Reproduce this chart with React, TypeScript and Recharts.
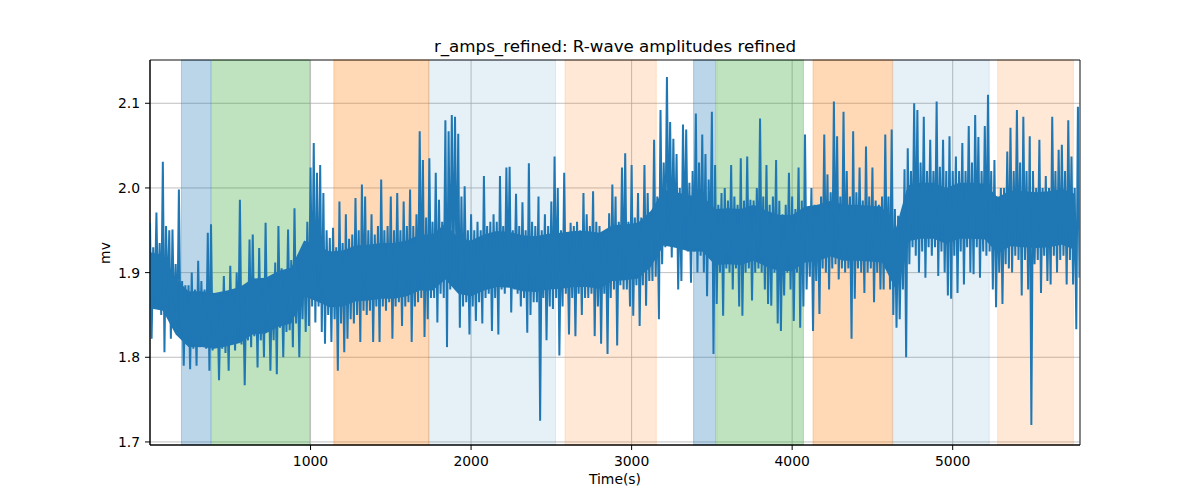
import { ComposedChart, Line, Area, XAxis, YAxis, CartesianGrid, ReferenceArea } from "recharts"

// R-wave amplitude (mV), one reading every 10 s (80 s per row)
const sampleStep = 10
const ampValues = [
  1.959, 1.822, 1.93, 1.865, 1.971, 1.858, 1.935, 1.85,
  2.031, 1.806, 1.955, 1.86, 1.95, 1.822, 1.951, 1.845,
  1.91, 1.83, 1.998, 1.83, 1.89, 1.79, 1.885, 1.815,
  1.885, 1.786, 1.9, 1.81, 1.88, 1.79, 1.914, 1.812,
  1.89, 1.815, 1.88, 1.81, 1.947, 1.784, 1.957, 1.808,
  1.876, 1.812, 1.87, 1.773, 1.868, 1.81, 1.896, 1.805,
  1.875, 1.784, 1.908, 1.815, 1.88, 1.808, 1.9, 1.82,
  1.986, 1.815, 1.88, 1.767, 1.885, 1.82, 1.939, 1.812,
  1.945, 1.825, 1.89, 1.788, 1.929, 1.82, 1.885, 1.8,
  1.959, 1.83, 1.89, 1.784, 1.895, 1.82, 1.912, 1.78,
  1.955, 1.835, 1.905, 1.8, 1.9, 1.83, 1.951, 1.832,
  1.915, 1.812, 1.976, 1.84, 1.91, 1.8, 1.916, 1.845,
  1.93, 1.83, 1.96, 1.837, 2.024, 1.86, 2.053, 1.841,
  2.018, 1.86, 2.027, 1.83, 1.994, 1.816, 1.95, 1.85,
  1.941, 1.818, 1.953, 1.845, 1.93, 1.784, 1.984, 1.84,
  1.935, 1.806, 1.969, 1.822, 1.94, 1.845, 1.945, 1.84,
  1.988, 1.85, 1.95, 1.818, 2.004, 1.855, 1.99, 1.85,
  1.95, 1.855, 1.969, 1.818, 1.945, 1.86, 1.955, 1.818,
  2.01, 1.86, 1.95, 1.855, 1.955, 1.865, 1.99, 1.822,
  1.95, 1.86, 1.994, 1.865, 1.95, 1.837, 1.984, 1.86,
  1.955, 1.865, 1.998, 1.818, 1.955, 1.86, 1.969, 1.865,
  2.067, 1.87, 2.033, 1.824, 1.965, 1.845, 2.035, 1.87,
  1.96, 1.87, 2.018, 1.841, 1.986, 1.875, 1.96, 1.87,
  2.08, 1.812, 2.067, 1.88, 2.086, 1.9, 2.084, 1.88,
  2.064, 1.835, 1.99, 1.86, 2.002, 1.865, 1.95, 1.827,
  1.969, 1.86, 1.95, 1.843, 1.96, 1.865, 1.95, 1.84,
  2.014, 1.87, 1.955, 1.875, 1.96, 1.831, 1.969, 1.87,
  1.96, 1.827, 2.014, 1.88, 1.955, 1.875, 2.024, 1.885,
  2.025, 1.853, 1.95, 1.88, 1.993, 1.875, 1.955, 1.86,
  1.983, 1.87, 1.95, 1.829, 2.029, 1.85, 1.96, 1.865,
  1.955, 1.865, 1.99, 1.725, 1.95, 1.87, 1.969, 1.82,
  1.955, 1.86, 1.984, 1.857, 2.037, 1.87, 2.0, 1.802,
  1.95, 1.86, 2.018, 1.875, 1.945, 1.827, 1.959, 1.87,
  1.955, 1.825, 1.96, 1.875, 1.95, 1.85, 1.994, 1.87,
  1.969, 1.87, 1.955, 1.875, 1.996, 1.825, 1.96, 1.86,
  1.955, 1.816, 1.947, 1.875, 1.95, 1.804, 1.97, 1.87,
  2.004, 1.88, 1.99, 1.814, 1.96, 1.885, 2.024, 1.88,
  2.041, 1.88, 1.96, 1.86, 2.027, 1.849, 1.965, 1.885,
  1.994, 1.837, 1.965, 1.885, 2.027, 1.861, 1.994, 1.89,
  1.97, 1.89, 2.057, 1.895, 1.99, 1.845, 2.092, 1.91,
  2.03, 1.93, 2.131, 1.94, 2.078, 1.918, 2.058, 1.935,
  2.04, 1.88, 2.0, 1.89, 2.075, 1.93, 2.069, 1.925,
  2.006, 1.888, 2.02, 1.925, 2.088, 1.9, 2.03, 1.92,
  2.063, 1.9, 2.04, 1.872, 2.01, 1.92, 2.09, 1.804,
  2.027, 1.863, 1.98, 1.9, 1.994, 1.849, 2.0, 1.905,
  1.985, 1.9, 2.027, 1.88, 1.99, 1.905, 1.98, 1.86,
  2.035, 1.849, 1.985, 1.9, 2.037, 1.905, 1.986, 1.867,
  1.985, 1.9, 2.0, 1.905, 2.082, 1.9, 1.99, 1.88,
  2.027, 1.863, 1.98, 1.861, 1.99, 1.9, 2.033, 1.84,
  1.985, 1.831, 1.969, 1.873, 1.98, 1.9, 2.018, 1.88,
  1.99, 1.843, 1.975, 1.9, 2.024, 1.835, 1.985, 1.86,
  2.063, 1.88, 1.965, 1.895, 2.0, 1.831, 1.98, 1.89,
  1.98, 1.851, 1.99, 1.905, 2.063, 1.9, 2.016, 1.88,
  1.995, 1.905, 2.102, 1.91, 2.061, 1.892, 1.99, 1.905,
  2.09, 1.9, 2.02, 1.905, 1.99, 1.822, 2.067, 1.869,
  1.995, 1.905, 2.024, 1.9, 1.985, 1.876, 2.049, 1.9,
  1.99, 1.905, 2.024, 1.865, 1.985, 1.9, 1.98, 1.88,
  1.99, 1.88, 2.063, 1.905, 1.99, 1.88, 2.069, 1.85,
  1.975, 1.835, 1.967, 1.845, 1.96, 1.88, 2.022, 1.8,
  2.047, 1.91, 2.02, 1.93, 2.1, 1.92, 2.092, 1.9,
  2.03, 1.925, 2.084, 1.894, 2.02, 1.93, 2.057, 1.92,
  2.02, 1.93, 2.102, 1.896, 2.025, 1.925, 2.057, 1.9,
  2.02, 1.873, 2.061, 1.869, 2.02, 1.92, 2.037, 1.876,
  2.02, 1.925, 2.053, 1.886, 2.02, 1.93, 2.073, 1.9,
  2.03, 1.898, 2.086, 1.93, 2.06, 1.894, 2.02, 1.925,
  2.073, 1.92, 2.11, 1.925, 2.02, 1.88, 2.033, 1.859,
  1.99, 1.9, 2.0, 1.863, 2.0, 1.91, 2.043, 1.905,
  2.071, 1.9, 2.02, 1.92, 2.092, 1.915, 2.03, 1.873,
  2.084, 1.915, 2.02, 1.88, 2.061, 1.72, 2.02, 1.91,
  2.0, 1.915, 2.057, 1.876, 2.0, 1.92, 2.014, 1.89,
  2.0, 1.886, 2.084, 1.92, 2.02, 1.9, 2.045, 1.915,
  2.051, 1.92, 2.02, 1.886, 2.08, 1.915, 2.037, 1.886,
  2.0, 1.833, 2.096, 1.894,
]

// dense middle of the trace (where the line fills solid), one pair per 80 s
const coreStep = 80
const coreLow = [
  1.858, 1.855, 1.827, 1.812, 1.812, 1.81, 1.813, 1.817, 1.827, 1.828, 1.836, 1.84,
  1.872, 1.866, 1.859, 1.86, 1.866, 1.867, 1.869, 1.869, 1.872, 1.879, 1.879,
  1.892, 1.875, 1.872, 1.879, 1.883, 1.882, 1.878, 1.877, 1.88, 1.881, 1.883, 1.883, 1.881,
  1.89, 1.891, 1.893, 1.907, 1.932, 1.929, 1.925, 1.925, 1.909, 1.91, 1.909, 1.914, 1.907,
  1.902, 1.902, 1.912, 1.914, 1.919, 1.914, 1.914, 1.913, 1.912, 1.882, 1.937, 1.94, 1.94,
  1.934, 1.94, 1.94, 1.939, 1.923, 1.931, 1.93, 1.929, 1.93, 1.933, 1.927,
]
const coreHigh = [
  1.924, 1.921, 1.893, 1.878, 1.878, 1.876, 1.879, 1.883, 1.893, 1.894, 1.902, 1.906,
  1.938, 1.932, 1.925, 1.926, 1.932, 1.933, 1.935, 1.935, 1.938, 1.945, 1.945,
  1.958, 1.941, 1.938, 1.945, 1.949, 1.948, 1.944, 1.943, 1.946, 1.947, 1.949, 1.949, 1.947,
  1.956, 1.957, 1.959, 1.973, 1.998, 1.995, 1.991, 1.991, 1.975, 1.976, 1.975, 1.98, 1.973,
  1.968, 1.968, 1.978, 1.98, 1.985, 1.98, 1.98, 1.979, 1.978, 1.948, 2.003, 2.006, 2.006,
  2.0, 2.006, 2.006, 2.005, 1.989, 1.997, 1.996, 1.995, 1.996, 1.999, 1.993,
]

// shaded segments (seconds)
const spanStarts = [196, 383, 1145, 1737, 2585, 3386, 3530, 4130, 4627, 5280]
const spanEnds = [377, 994, 1737, 2526, 3154, 3523, 4070, 4624, 5228, 5752]
const spanKinds = ["A", "B", "C", "D", "E", "A", "B", "C", "D", "E"]

const xTicks = [1000, 2000, 3000, 4000, 5000]
const yTicks = [1.7, 1.8, 1.9, 2.0, 2.1]

const xDomain = [0, 5793]
const yDomain = [1.6964, 2.1511]

const spanStyle: Record<string, { color: string; alpha: number }> = {
  A: { color: "#1f77b4", alpha: 0.3 },
  B: { color: "#2ca02c", alpha: 0.3 },
  C: { color: "#ff7f0e", alpha: 0.3 },
  D: { color: "#1f77b4", alpha: 0.11 },
  E: { color: "#ff7f0e", alpha: 0.17 },
}

const lineData = ampValues.map((amp, i) => ({ t: i * sampleStep, amp }))
const coreData = coreLow.map((lo, i) => ({ t: i * coreStep, band: [lo, coreHigh[i]] }))
const spans = spanStarts.map((x1, i) => ({ x1, x2: spanEnds[i], kind: spanKinds[i] }))

const font = "DejaVu Sans"
const tickStyle = { fill: "#000", fontSize: 13.9, fontFamily: font }

export default function App() {
  return (
    <div
      style={{
        position: "absolute",
        left: 0,
        top: 0,
        width: 1200,
        height: 500,
        background: "#fff",
        fontFamily: font,
        color: "#000",
      }}
    >
      <div
        style={{
          position: "absolute",
          left: 150,
          width: 930,
          top: 37.6,
          textAlign: "center",
          fontSize: 16.7,
          lineHeight: 1,
        }}
      >
        r_amps_refined: R-wave amplitudes refined
      </div>
      <ComposedChart
        width={1200}
        height={500}
        margin={{ top: 60, right: 120, bottom: 25, left: 90 }}
      >
        <CartesianGrid stroke="#b0b0b0" strokeWidth={0.8} />
        {spans.map((s, i) => (
          <ReferenceArea
            key={i}
            x1={s.x1}
            x2={s.x2}
            fill={spanStyle[s.kind].color}
            fillOpacity={spanStyle[s.kind].alpha}
            stroke={spanStyle[s.kind].color}
            strokeOpacity={spanStyle[s.kind].alpha}
          />
        ))}
        <XAxis
          type="number"
          dataKey="t"
          domain={xDomain}
          ticks={xTicks}
          allowDataOverflow
          height={30}
          tickSize={5}
          tickMargin={6}
          stroke="#000"
          tick={tickStyle}
        />
        <YAxis
          type="number"
          domain={yDomain}
          ticks={yTicks}
          allowDataOverflow
          width={60}
          tickSize={5}
          tickMargin={5}
          stroke="#000"
          tick={tickStyle}
          tickFormatter={(v: number) => v.toFixed(1)}
        />
        <Area
          data={coreData}
          type="linear"
          dataKey="band"
          stroke="none"
          fill="#1f77b4"
          fillOpacity={1}
          activeDot={false}
          isAnimationActive={false}
        />
        <Line
          data={lineData}
          type="linear"
          dataKey="amp"
          stroke="#1f77b4"
          strokeWidth={2}
          dot={false}
          activeDot={false}
          isAnimationActive={false}
        />
        <ReferenceArea
          x1={xDomain[0]}
          x2={xDomain[1]}
          y1={yDomain[0]}
          y2={yDomain[1]}
          fill="none"
          stroke="#000"
          strokeWidth={0.8}
        />
      </ComposedChart>
      <div
        style={{
          position: "absolute",
          left: 150,
          width: 930,
          top: 473,
          textAlign: "center",
          fontSize: 13.9,
          lineHeight: 1,
        }}
      >
        Time(s)
      </div>
      <div
        style={{
          position: "absolute",
          left: 105 - 40,
          top: 252.5 - 7,
          width: 80,
          height: 14,
          textAlign: "center",
          fontSize: 13.9,
          lineHeight: "14px",
          transform: "rotate(-90deg)",
        }}
      >
        mv
      </div>
    </div>
  )
}
